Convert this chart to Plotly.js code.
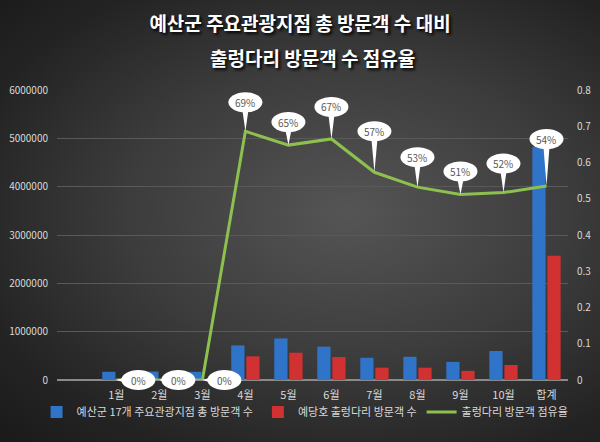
<!DOCTYPE html>
<html>
<head>
<meta charset="utf-8">
<script src="https://cdn.plot.ly/plotly-3.0.1.min.js"></script>
<style>
  html, body { margin: 0; padding: 0; }
  body {
    width: 600px; height: 442px; overflow: hidden;
    background: radial-gradient(ellipse at 58% 48%, #555555 0%, #3c3c3c 45%, #232323 80%, #1a1a1a 100%);
  }
  #chart { width: 600px; height: 442px; }
</style>
</head>
<body>
<div id="chart"></div>
<script>
const months = ["1월", "2월", "3월", "4월", "5월", "6월", "7월", "8월", "9월", "10월", "합계"];
const totalVisitors = [170000, 175000, 170000, 716000, 860000, 690000, 460000, 480000, 375000, 600000, 4820000];
const bridgeVisitors = [0, 0, 0, 490000, 565000, 475000, 255000, 255000, 190000, 310000, 2570000];
const shareRate = [0, 0, 0, 0.686, 0.648, 0.665, 0.573, 0.532, 0.512, 0.517, 0.535];

// callout offsets in px (label placement only)
const calloutDx = [22, 19, 22, 0, 0, 0, 0, 0, 0, 0, 0];
const calloutDy = [0, 0, 0, 29, 23, 32, 41, 30, 23, 29, 47];

const shareRange = [0, 0.8];
const textColor = "#d9d9d9";
const baseFont = "Noto Sans CJK KR, Noto Sans, sans-serif";

const barTotal = {
  x: months,
  y: totalVisitors,
  type: "bar",
  name: "예산군 17개 주요관광지점 총 방문객 수",
  marker: { color: "#2f74c9" },
};

const barBridge = {
  x: months,
  y: bridgeVisitors,
  type: "bar",
  name: "예당호 출렁다리 방문객 수",
  marker: { color: "#d23131" },
};

const shareLine = {
  x: months,
  y: shareRate,
  type: "scatter",
  mode: "lines",
  name: "출렁다리 방문객 점유율",
  yaxis: "y2",
  line: { color: "#8dc04e", width: 3 },
};

const shapes = [];
const annotations = [];
months.forEach((m, i) => {
  const dx = calloutDx[i];
  const dy = calloutDy[i];
  // domain ref so the callouts are not clipped at the zero line
  const base = {
    xref: "x", yref: "y2 domain",
    xsizemode: "pixel", ysizemode: "pixel",
    xanchor: m,
    yanchor: (shareRate[i] - shareRange[0]) / (shareRange[1] - shareRange[0]),
    fillcolor: "#ffffff",
    line: { width: 0 },
    layer: "above",
  };
  shapes.push(Object.assign({}, base, {
    type: "circle",
    x0: dx - 17, x1: dx + 17,
    y0: dy - 10, y1: dy + 10,
  }));
  const tail = dx > 0
    ? `M ${dx - 12} -3 L ${dx - 12} 3 L 0 0 Z`
    : `M -3 ${dy - 8} L 3 ${dy - 8} L 0 0 Z`;
  shapes.push(Object.assign({}, base, { type: "path", path: tail }));
  annotations.push({
    xref: "x", yref: "y2",
    x: m, y: shareRate[i],
    xshift: dx, yshift: dy,
    text: Math.round(shareRate[i] * 100) + "%",
    showarrow: false,
    font: { family: baseFont, size: 10, color: "#595959" },
  });
});

annotations.push({
  xref: "paper", yref: "paper",
  x: 0.5, y: 1,
  xanchor: "center", yanchor: "middle",
  yshift: 33,
  text: "<b>출렁다리 방문객 수 점유율</b>",
  showarrow: false,
  font: { family: baseFont, size: 19, color: "#ffffff", shadow: "2px 2px 3px #000000" },
});

const chartLayout = {
  width: 600,
  height: 442,
  margin: { l: 57, r: 32, t: 90, b: 62, autoexpand: false },
  paper_bgcolor: "rgba(0,0,0,0)",
  plot_bgcolor: "rgba(0,0,0,0)",
  font: { family: baseFont, color: textColor, size: 10 },
  title: {
    text: "<b>예산군 주요관광지점 총 방문객 수 대비</b>",
    x: 0.5, xanchor: "center",
    y: 0.945, yanchor: "middle",
    font: { family: baseFont, size: 19, color: "#ffffff", shadow: "2px 2px 3px #000000" },
  },
  barmode: "group",
  bargap: 0.3,
  bargroupgap: 0.12,
  xaxis: {
    type: "category",
    range: [-1.38, 10.5],
    showgrid: false,
    showline: false,
    zeroline: false,
    ticks: "",
    ticklabelstandoff: 7,
    tickfont: { size: 11, color: textColor },
  },
  yaxis: {
    range: [0, 6000000],
    dtick: 1000000,
    tickformat: "d",
    gridcolor: "#595959",
    gridwidth: 1,
    zeroline: true,
    zerolinecolor: "#8a8a8a",
    zerolinewidth: 2,
    ticks: "",
    ticklabelstandoff: 8,
    tickfont: { size: 10, color: textColor },
  },
  yaxis2: {
    overlaying: "y",
    side: "right",
    range: shareRange,
    dtick: 0.1,
    showgrid: false,
    zeroline: false,
    ticks: "",
    ticklabelstandoff: 8,
    tickfont: { size: 10, color: textColor },
  },
  showlegend: true,
  legend: {
    orientation: "h",
    x: -0.04, xanchor: "left",
    y: -0.11, yanchor: "middle",
    font: { size: 11, color: textColor },
    itemwidth: 30,
    bgcolor: "rgba(0,0,0,0)",
  },
  shapes: shapes,
  annotations: annotations,
};

Plotly.newPlot("chart", [barTotal, barBridge, shareLine], chartLayout, { displayModeBar: false, staticPlot: true });
</script>
</body>
</html>
